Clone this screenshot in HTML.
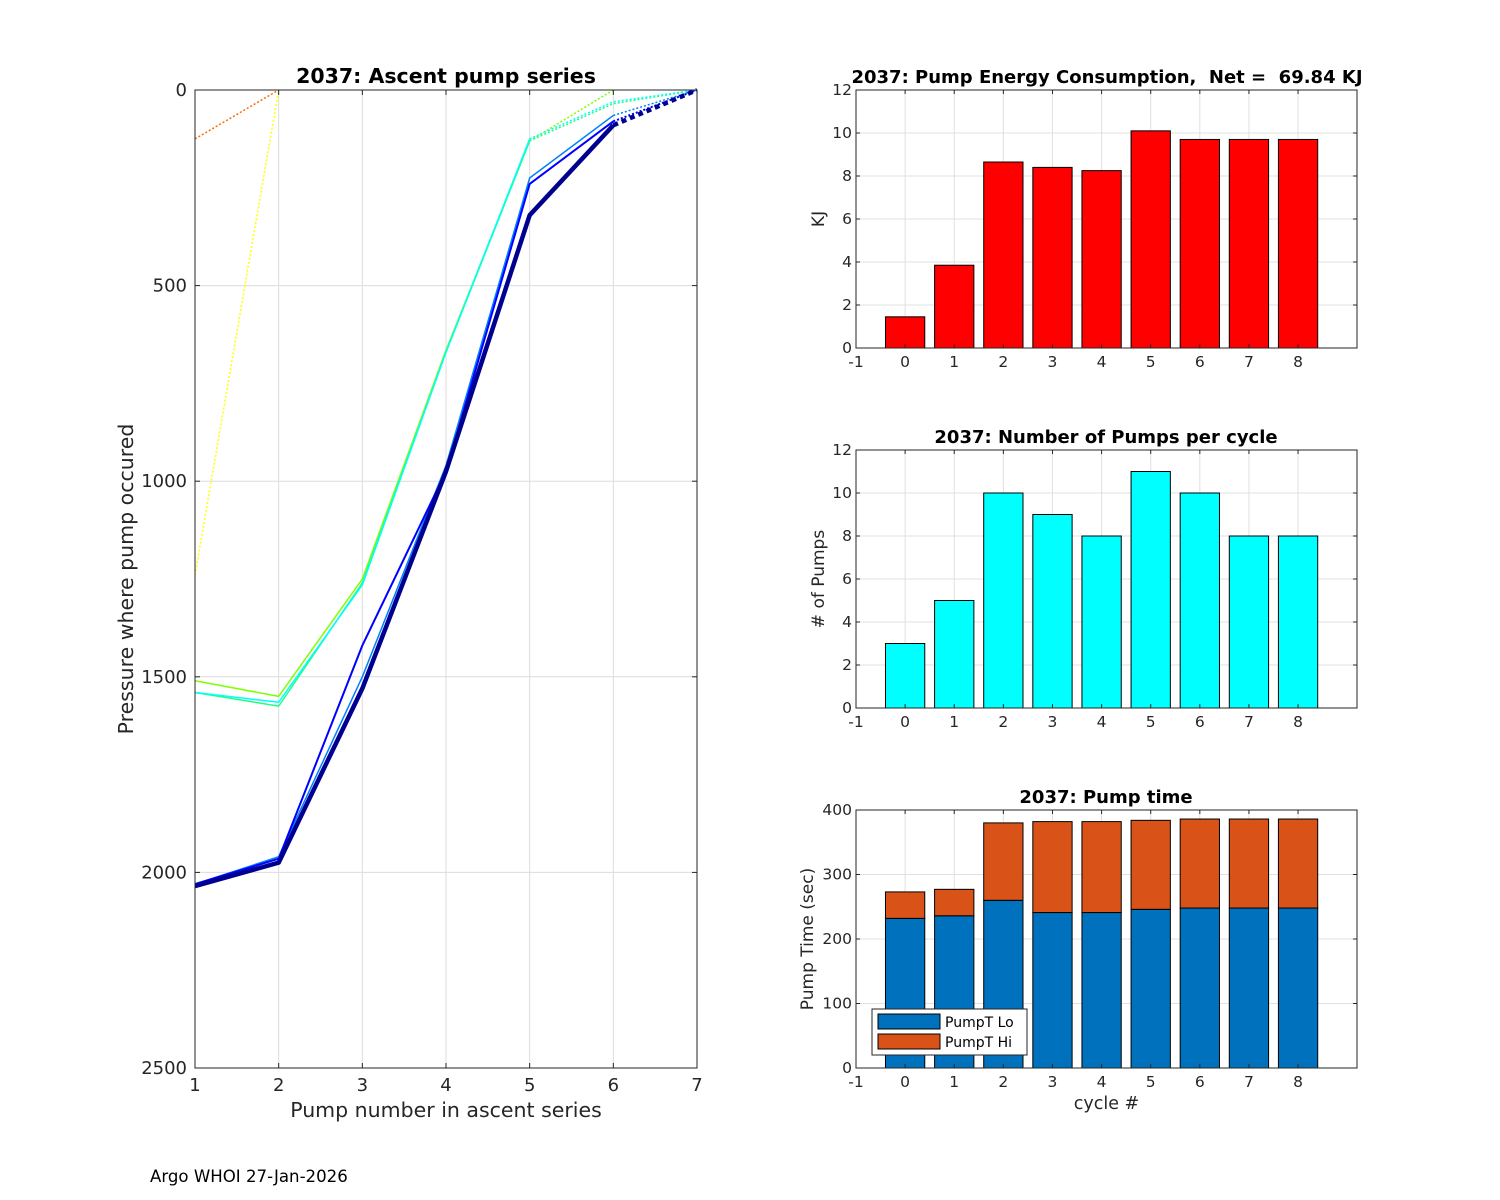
<!DOCTYPE html>
<html><head><meta charset="utf-8"><style>
body{margin:0;background:#fff;}
svg{display:block;font-family:"DejaVu Sans","Liberation Sans",sans-serif;}
</style></head><body>
<svg id="fig" width="1500" height="1200" viewBox="0 0 1500 1200">
<rect width="1500" height="1200" fill="#fff"/>
<text x="150" y="1182" font-size="16.6" fill="#000">Argo WHOI 27-Jan-2026</text>
</svg>
<script>
// ---- Left chart data ----
const pumpNumbers=[1,2,3,4,5,6,7];
const seriesColors=['#ff6a00','#ffff00','#7fff00','#20ff80','#00ffff','#0080ff','#0000ff','#000090'];
const seriesPressures=[
 [125,0],
 [1240,0],
 [1510,1550,1250,665,130,0],
 [1540,1575,1260,670,130,35,0],
 [1540,1565,1265,670,125,30,0],
 [2030,1960,1500,960,225,65,0],
 [2030,1965,1420,975,240,80,0],
 [2035,1975,1530,975,320,90,0]
];
const seriesSolidCount=[0,0,5,5,5,6,6,6];
const seriesWidth=[1.5,1.5,1.5,1.5,1.5,1.5,2,4.5];
const leftYTicks=[0,500,1000,1500,2000,2500];
const leftXTicks=[1,2,3,4,5,6,7];
// ---- Right charts data ----
const cycles=[0,1,2,3,4,5,6,7,8];
const energyKJ=[1.45,3.85,8.65,8.4,8.25,10.1,9.7,9.7,9.7];
const pumpsPerCycle=[3,5,10,9,8,11,10,8,8];
const pumpTimeLo=[232,236,260,241,241,246,248,248,248];
const pumpTimeHi=[41,41,120,141,141,138,138,138,138];
const cycleTicks=[-1,0,1,2,3,4,5,6,7,8];
const energyTicks=[0,2,4,6,8,10,12];
const pumpTicks=[0,2,4,6,8,10,12];
const timeTicks=[0,100,200,300,400];

const svg=document.getElementById('fig');
const NS='http://www.w3.org/2000/svg';
function mk(tag,attrs,parent){const e=document.createElementNS(NS,tag);for(const k in attrs)e.setAttribute(k,attrs[k]);(parent||svg).appendChild(e);return e;}
function txt(s,attrs,parent){const e=mk('text',attrs,parent);e.textContent=s;return e;}

// ---- Left chart ----
(function(){
 const L=195,R=697,T=90,B=1068;
 const g=mk('g',{});
 
 
 const xs=v=>L+(v-1)/6*(R-L);
 const ys=v=>T+v/2500*(B-T);
 leftXTicks.forEach(t=>{
  const l=mk('line',{x1:xs(t),x2:xs(t),y1:T,y2:B,stroke:'#dcdcdc','stroke-width':1},g);
  
 });
 leftYTicks.forEach(t=>{
  const l=mk('line',{x1:L,x2:R,y1:ys(t),y2:ys(t),stroke:'#dcdcdc','stroke-width':1},g);
  
 });
 seriesPressures.forEach((arr,i)=>{
  const sg=mk('g',{},g);
  
  
  const n=arr.length, sc=seriesSolidCount[i];
  const xsOf=k=>xs(pumpNumbers[k]);
  if(sc>1){
   const pts=[];for(let k=0;k<sc;k++)pts.push(xsOf(k)+','+ys(arr[k]));
   mk('polyline',{points:pts.join(' '),fill:'none',stroke:seriesColors[i],'stroke-width':seriesWidth[i],'stroke-linejoin':'round'},sg);
  }
  const st=Math.max(sc-1,0);
  const dp=[];for(let k=st;k<n;k++)dp.push(xsOf(k)+','+ys(arr[k]));
  if(dp.length>1) mk('polyline',{points:dp.join(' '),fill:'none',stroke:seriesColors[i],'stroke-width':seriesWidth[i],'stroke-dasharray':seriesWidth[i]>3?'5,4':'2,2'},sg);
 });
 mk('rect',{x:L,y:T,width:R-L,height:B-T,fill:'none',stroke:'#262626','stroke-width':1},g);
 leftXTicks.forEach(t=>{
  mk('line',{x1:xs(t),x2:xs(t),y1:B,y2:B-5,stroke:'#262626'},g);
  mk('line',{x1:xs(t),x2:xs(t),y1:T,y2:T+5,stroke:'#262626'},g);
  const e=txt(String(t),{x:xs(t),y:B+23,'font-size':18,'text-anchor':'middle',fill:'#262626'},g);
  
 });
 leftYTicks.forEach(t=>{
  mk('line',{x1:L,x2:L+5,y1:ys(t),y2:ys(t),stroke:'#262626'},g);
  mk('line',{x1:R,x2:R-5,y1:ys(t),y2:ys(t),stroke:'#262626'},g);
  const e=txt(String(t),{x:L-8,y:ys(t)+6,'font-size':18,'text-anchor':'end',fill:'#262626'},g);
  
 });
 const t1=txt('2037: Ascent pump series',{x:(L+R)/2,y:83,'font-size':20.5,'font-weight':'bold','text-anchor':'middle'},g);
 
 const xl=txt('Pump number in ascent series',{x:(L+R)/2,y:1117,'font-size':20.5,'text-anchor':'middle',fill:'#262626'},g);
 
 const yl=txt('Pressure where pump occured',{x:0,y:0,'font-size':20.5,'text-anchor':'middle',fill:'#262626',transform:'translate(133,'+((T+B)/2+0)+') rotate(-90)'},g);
 
})();

// ---- Right bar charts ----
function barChart(opt){
 const L=856,R=1357,T=opt.top,B=opt.top+258;
 const g=mk('g',{});
 
 
 const xs=v=>L+(v+1)/10.2*(R-L);
 const ymax=opt.ticks[opt.ticks.length-1];
 const ys=v=>B-v/ymax*(B-T);
 cycleTicks.forEach(t=>mk('line',{x1:xs(t),x2:xs(t),y1:T,y2:B,stroke:'#e0e0e0'},g));
 opt.ticks.forEach(t=>mk('line',{x1:L,x2:R,y1:ys(t),y2:ys(t),stroke:'#e0e0e0'},g));
 const bw=0.8/10.2*(R-L);
 cycles.forEach((c,i)=>{
  let base=0;
  opt.stacks.forEach((s,j)=>{
   const v=s.values[i];
   const r=mk('rect',{x:xs(c)-bw/2,y:ys(base+v),width:bw,height:ys(base)-ys(base+v),fill:s.color,stroke:'#000','stroke-width':1},g);
   
   
   base+=v;
  });
 });
 mk('rect',{x:L,y:T,width:R-L,height:B-T,fill:'none',stroke:'#262626'},g);
 cycleTicks.forEach(t=>{
  mk('line',{x1:xs(t),x2:xs(t),y1:B,y2:B-4,stroke:'#262626'},g);
  mk('line',{x1:xs(t),x2:xs(t),y1:T,y2:T+4,stroke:'#262626'},g);
  const e=txt(String(t),{x:xs(t),y:B+19,'font-size':15.5,'text-anchor':'middle',fill:'#262626'},g);
  
 });
 opt.ticks.forEach(t=>{
  mk('line',{x1:L,x2:L+4,y1:ys(t),y2:ys(t),stroke:'#262626'},g);
  mk('line',{x1:R,x2:R-4,y1:ys(t),y2:ys(t),stroke:'#262626'},g);
  const e=txt(String(t),{x:L-4,y:ys(t)+5,'font-size':15.5,'text-anchor':'end',fill:'#262626'},g);
  
 });
 const tt=txt(opt.title,{x:opt.titleX,y:T-7,'font-size':18,'font-weight':'bold','text-anchor':'middle',style:'white-space:pre'},g);
 
 const yl=txt(opt.ylabel,{x:0,y:0,'font-size':17,'text-anchor':'middle',fill:'#262626',transform:'translate('+opt.ylabelX+','+((T+B)/2)+') rotate(-90)'},g);
 
 if(opt.xlabel){
  const xl=txt(opt.xlabel,{x:(L+R)/2,y:B+41,'font-size':17.5,'text-anchor':'middle',fill:'#262626'},g);
  
 }
 return g;
}
barChart({name:'energy-chart',top:90,ticks:energyTicks,title:'2037: Pump Energy Consumption,  Net =  69.84 KJ',titleX:1107,ylabel:'KJ',ylabelX:824,stacks:[{label:'energy',values:energyKJ,color:'#ff0000'}]});
barChart({name:'pumps-chart',top:450,ticks:pumpTicks,title:'2037: Number of Pumps per cycle',titleX:1106,ylabel:'# of Pumps',ylabelX:824,stacks:[{label:'pumps',values:pumpsPerCycle,color:'#00ffff'}]});
const g3=barChart({name:'pump-time-chart',top:810,ticks:timeTicks,title:'2037: Pump time',titleX:1106,ylabel:'Pump Time (sec)',ylabelX:813,xlabel:'cycle #',stacks:[{label:'pumpt-lo',values:pumpTimeLo,color:'#0072bd'},{label:'pumpt-hi',values:pumpTimeHi,color:'#d95319'}]});
// legend
const lg=mk('g',{},g3);


mk('rect',{x:872,y:1009,width:155,height:46,fill:'#fff',stroke:'#262626'},lg);
const le1=mk('g',{},lg);


mk('rect',{x:878,y:1014,width:62,height:15,fill:'#0072bd',stroke:'#000'},le1);
txt('PumpT Lo',{x:945,y:1027,'font-size':14,fill:'#000'},le1);
const le2=mk('g',{},lg);


mk('rect',{x:878,y:1034,width:62,height:15,fill:'#d95319',stroke:'#000'},le2);
txt('PumpT Hi',{x:945,y:1047,'font-size':14,fill:'#000'},le2);
</script>
</body></html>
